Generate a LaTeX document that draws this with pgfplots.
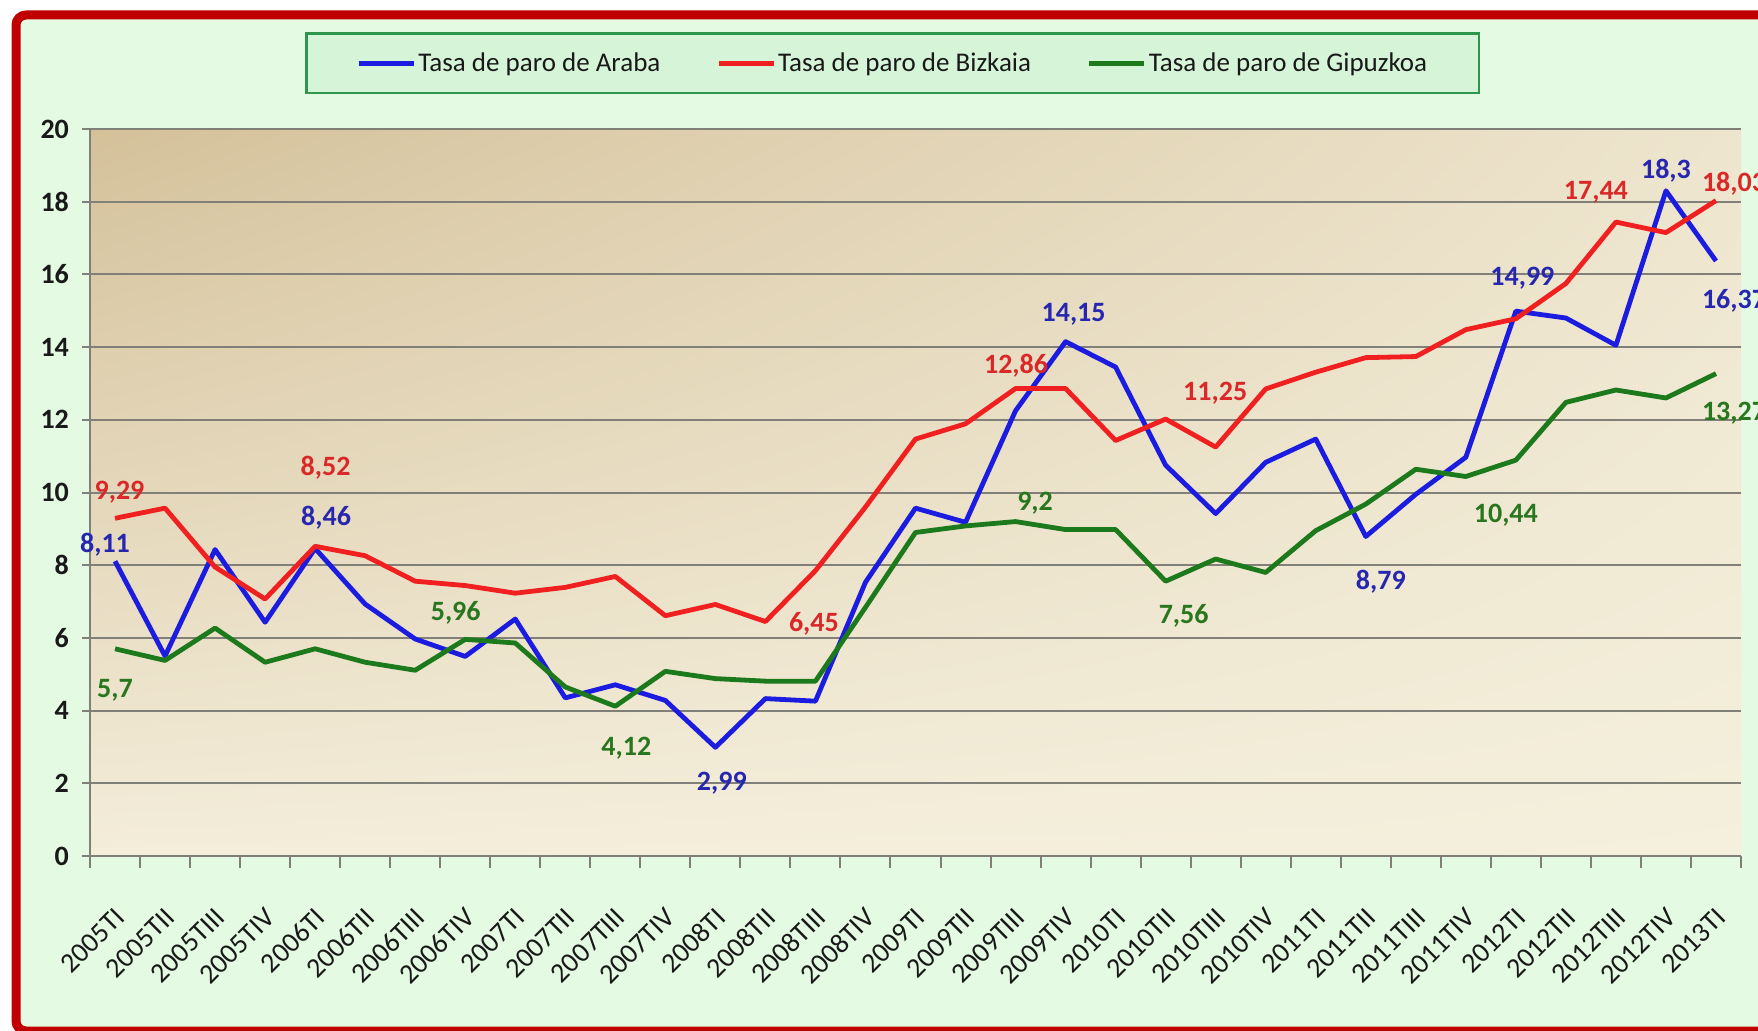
\documentclass[border=0pt]{standalone}
\usepackage{fontspec}
\setmainfont{Carlito}
\usepackage{pgfplots}
\pgfplotsset{compat=1.18}
\usetikzlibrary{shadings}
\definecolor{bgmint}{RGB}{228,250,226}
\definecolor{borderred}{RGB}{192,0,0}
\definecolor{gridgray}{RGB}{128,128,120}
\definecolor{legfill}{RGB}{214,245,216}
\definecolor{legdraw}{RGB}{46,150,76}
\definecolor{lineblue}{RGB}{28,28,225}
\definecolor{linered}{RGB}{240,32,32}
\definecolor{linegreen}{RGB}{28,122,28}
\definecolor{lblblue}{RGB}{38,38,175}
\definecolor{lblred}{RGB}{218,40,40}
\definecolor{lblgreen}{RGB}{40,118,30}
\definecolor{tickdark}{RGB}{25,25,25}
\definecolor{bgtl}{RGB}{212,193,154}
\definecolor{bgtr}{RGB}{238,229,206}
\definecolor{bgbl}{RGB}{244,237,218}
\definecolor{bgbr}{RGB}{244,240,221}
\begin{document}
\begin{tikzpicture}
\useasboundingbox (0pt,0pt) rectangle (879pt,515pt);
\fill[white] (0pt,0pt) rectangle (879pt,515pt);
\draw[line width=4.5pt, draw=borderred, fill=bgmint, rounded corners=5pt] (8pt,-0.5pt) rectangle (895pt,507.5pt);
\begin{axis}[
  at={(45pt,87pt)}, anchor=south west,
  width=825.5pt, height=363.5pt, scale only axis,
  xmin=-0.5, xmax=32.5, ymin=0, ymax=20,
  clip=false,
  axis background/.style={shading=bilinear interpolation, upper left=bgtl, upper right=bgtr, lower left=bgbl, lower right=bgbr},
  axis x line*=bottom, axis y line*=left,
  axis line style={draw=gridgray, line width=1pt},
  ymajorgrids, grid style={draw=gridgray, line width=1pt},
  ytick={0,2,...,20},
  xtick={0,...,32},
  xticklabels={2005TI,2005TII,2005TIII,2005TIV,2006TI,2006TII,2006TIII,2006TIV,2007TI,2007TII,2007TIII,2007TIV,2008TI,2008TII,2008TIII,2008TIV,2009TI,2009TII,2009TIII,2009TIV,2010TI,2010TII,2010TIII,2010TIV,2011TI,2011TII,2011TIII,2011TIV,2012TI,2012TII,2012TIII,2012TIV,2013TI},
  minor xtick={-0.5,0.5,...,32.5},
  tick align=outside,
  major tick length=4pt, minor tick length=6pt,
  major x tick style={draw=none},
  minor x tick style={draw=gridgray, line width=1pt},
  major y tick style={draw=gridgray, line width=1pt},
  /pgf/number format/assume math mode=true,
  yticklabel style={font=\bfseries\fontsize{14}{15}\selectfont, text=tickdark, xshift=-3pt},
  xticklabel style={font=\fontsize{14}{15}\selectfont, text=tickdark, xshift=5pt, yshift=-22pt, rotate=45, anchor=east},
  legend columns=3,
  legend cell align=left,
  legend image code/.code={\draw[#1] (0pt,0pt) -- (27.5pt,0pt);},
  legend style={at={(0.4863,1.0904)}, anchor=center, draw=legdraw, line width=1.3pt, fill=legfill,
    font=\fontsize{13.5}{15}\selectfont, text=tickdark,
    inner xsep=25pt, inner ysep=8.5pt,
    nodes={inner sep=1pt},
    /tikz/every even column/.append style={column sep=27pt}},
  every axis plot/.append style={line width=2.4pt, line join=round, mark=none},
]
\addplot[lineblue] coordinates {
(0,8.11) (1,5.50) (2,8.43) (3,6.43) (4,8.46) (5,6.93) (6,5.97) (7,5.49) (8,6.52) (9,4.35)
(10,4.71) (11,4.28) (12,2.99) (13,4.33) (14,4.26) (15,7.53) (16,9.57) (17,9.18) (18,12.25) (19,14.15)
(20,13.45) (21,10.75) (22,9.42) (23,10.83) (24,11.47) (25,8.79) (26,9.95) (27,10.97) (28,14.99) (29,14.80)
(30,14.05) (31,18.30) (32,16.37)};
\addlegendentry{Tasa de paro de Araba}
\addplot[linered] coordinates {
(0,9.29) (1,9.57) (2,7.95) (3,7.07) (4,8.52) (5,8.26) (6,7.56) (7,7.44) (8,7.23) (9,7.39)
(10,7.69) (11,6.61) (12,6.92) (13,6.45) (14,7.85) (15,9.60) (16,11.47) (17,11.89) (18,12.86) (19,12.86)
(20,11.43) (21,12.02) (22,11.25) (23,12.85) (24,13.31) (25,13.71) (26,13.74) (27,14.48) (28,14.78) (29,15.75)
(30,17.44) (31,17.15) (32,18.03)};
\addlegendentry{Tasa de paro de Bizkaia}
\addplot[linegreen] coordinates {
(0,5.70) (1,5.38) (2,6.27) (3,5.33) (4,5.70) (5,5.33) (6,5.11) (7,5.96) (8,5.86) (9,4.65)
(10,4.12) (11,5.08) (12,4.88) (13,4.81) (14,4.81) (15,6.84) (16,8.90) (17,9.08) (18,9.20) (19,8.98)
(20,8.98) (21,7.56) (22,8.17) (23,7.80) (24,8.95) (25,9.68) (26,10.64) (27,10.44) (28,10.89) (29,12.48)
(30,12.82) (31,12.60) (32,13.27)};
\addlegendentry{Tasa de paro de Gipuzkoa}
\begin{scope}[every node/.style={font=\bfseries\fontsize{14}{15}\selectfont, inner sep=0pt, anchor=center}]
\node[text=lblblue] at (axis cs:-0.2,8.57) {8,11};
\node[text=lblblue] at (axis cs:4.22,9.31) {8,46};
\node[text=lblblue] at (axis cs:12.13,2.0) {2,99};
\node[text=lblblue] at (axis cs:19.16,14.91) {14,15};
\node[text=lblblue] at (axis cs:25.3,7.55) {8,79};
\node[text=lblblue] at (axis cs:28.13,15.89) {14,99};
\node[text=lblblue] at (axis cs:31.0,18.85) {18,3};
\node[text=lblblue] at (axis cs:32.36,15.27) {16,37};
\node[text=lblred] at (axis cs:0.09,10.02) {9,29};
\node[text=lblred] at (axis cs:4.21,10.67) {8,52};
\node[text=lblred] at (axis cs:13.97,6.38) {6,45};
\node[text=lblred] at (axis cs:18.01,13.5) {12,86};
\node[text=lblred] at (axis cs:21.99,12.72) {11,25};
\node[text=lblred] at (axis cs:29.6,18.27) {17,44};
\node[text=lblred] at (axis cs:32.36,18.49) {18,03};
\node[text=lblgreen] at (axis cs:0.0,4.57) {5,7};
\node[text=lblgreen] at (axis cs:6.81,6.68) {5,96};
\node[text=lblgreen] at (axis cs:10.22,2.96) {4,12};
\node[text=lblgreen] at (axis cs:18.39,9.70) {9,2};
\node[text=lblgreen] at (axis cs:21.36,6.62) {7,56};
\node[text=lblgreen] at (axis cs:27.8,9.38) {10,44};
\node[text=lblgreen] at (axis cs:32.36,12.19) {13,27};
\end{scope}
\end{axis}
\end{tikzpicture}
\end{document}
